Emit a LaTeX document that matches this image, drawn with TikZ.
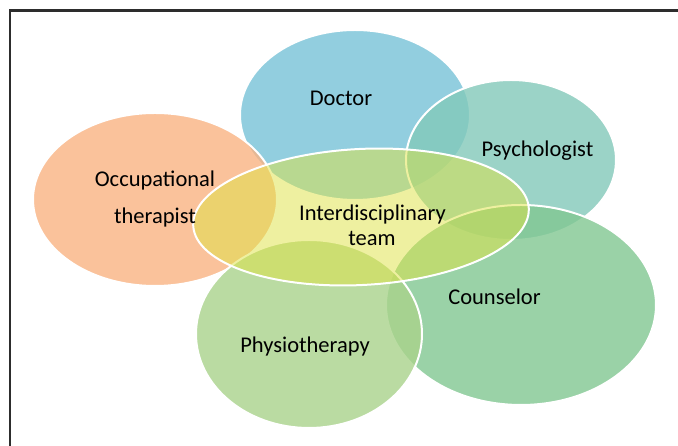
\documentclass[tikz,border=0pt]{standalone}
\usepackage{fontspec}
\setmainfont{Carlito}
\usetikzlibrary{shapes.geometric}
\definecolor{cDoc}{RGB}{119,194,215}
\definecolor{cPsy}{RGB}{130,201,186}
\definecolor{cOcc}{RGB}{249,179,131}
\definecolor{cCou}{RGB}{129,199,146}
\definecolor{cPhy}{RGB}{169,211,139}
\definecolor{cInt}{RGB}{222,226,66}
\definecolor{cFrame}{RGB}{45,45,45}
\tikzset{
  blob/.style={ellipse, draw=white, line width=2pt, fill opacity=0.8, inner sep=0pt},
  lbl/.style={anchor=base, inner sep=0pt, font=\fontsize{22.5}{27}\selectfont, text=black}
}
\begin{document}
\begin{tikzpicture}[x=1pt,y=1pt]
\useasboundingbox (0,0) rectangle (678,446);
\fill[white] (0,0) rectangle (678,446);
\draw[cFrame, line width=2.3pt] (10.2,0) -- (10.2,435.6) -- (678,435.6);
\node[blob, fill=cDoc, minimum width=230pt, minimum height=170pt] (doc) at (355,331) {};
\node[blob, fill=cPsy, minimum width=210pt, minimum height=160pt] (psy) at (511,286) {};
\node[blob, fill=cOcc, minimum width=244pt, minimum height=173pt] (occ) at (155,246.5) {};
\node[blob, fill=cCou, minimum width=270pt, minimum height=200pt] (cou) at (521,141) {};
\node[blob, fill=cPhy, minimum width=226pt, minimum height=188pt] (phy) at (309,112) {};
\node[blob, fill=cInt, fill opacity=0.5, minimum width=336pt, minimum height=136pt, rotate=3] (int) at (361,229) {};
\node[lbl] (tdoc) at (341,340) {Doctor};
\node[lbl] (tpsy) at (537.5,289) {Psychologist};
\node[lbl] (tocc1) at (155,259) {Occupational};
\node[lbl] (tocc2) at (155,222) {therapist};
\node[lbl] (tint1) at (372.5,225) {Interdisciplinary};
\node[lbl] (tint2) at (372,200) {team};
\node[lbl] (tcou) at (494.5,141) {Counselor};
\node[lbl] (tphy) at (305,93) {Physiotherapy};
\end{tikzpicture}
\end{document}
